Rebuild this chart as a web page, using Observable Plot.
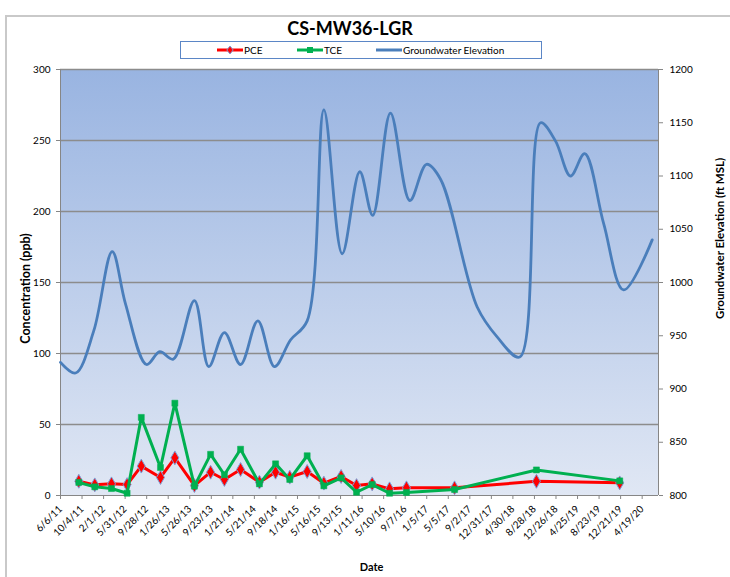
<!DOCTYPE html>
<html>
<head>
<meta charset="utf-8">
<script src="https://cdn.jsdelivr.net/npm/d3@7"></script>
<script src="https://cdn.jsdelivr.net/npm/@observablehq/plot@0.6"></script>
<style>
  html, body { margin: 0; padding: 0; background: #fff; }
  body { width: 730px; height: 577px; position: relative; overflow: hidden; font-family: Lato, "Liberation Sans", sans-serif; }
  #border { position: absolute; left: 5px; top: 15px; width: 800px; height: 700px; border-left: 2px solid #C9C9C9; border-top: 2px solid #C9C9C9; }
  #chart { position: absolute; left: 0; top: 0; }
  #title { position: absolute; left: 250px; width: 200px; top: 17px; text-align: center; font-weight: bold; font-size: 18px; color: #000; }
  #legend { position: absolute; left: 180px; top: 41px; width: 360px; height: 16px; border: 1px solid #5B86C6; background: #fff; }
  #legend svg { position: absolute; left: 0; top: 0; }
</style>
</head>
<body>
<div id="border"></div>
<div id="chart"></div>
<div id="title">CS-MW36-LGR</div>
<div id="legend"></div>
<script>
// ---------- data ----------
const sampleDates = ["2011-09-16","2011-12-14","2012-03-16","2012-06-11","2012-08-29","2012-12-14","2013-03-04","2013-06-21","2013-09-19","2013-12-05","2014-03-05","2014-06-18","2014-09-16","2014-12-04","2015-03-11","2015-06-12","2015-09-16","2015-12-11","2016-03-07","2016-06-12","2016-09-14","2017-06-09","2018-09-08","2019-12-16"];
const pceValues = [10, 7.5, 8.2, 7.7, 20.7, 12.7, 26.5, 7, 16.4, 11.3, 18.3, 9.4, 16.4, 12.9, 16.9, 8.7, 13.4, 7, 8.2, 4.7, 5.4, 5.4, 10, 8.9];
const tceValues = [9.2, 6.1, 4.9, 1.6, 55, 19.7, 65, 6.6, 29, 14.6, 32.6, 8.2, 22.3, 11.3, 28, 6.8, 12.4, 2.3, 7.7, 1.6, 2.1, 4.2, 18, 10.3];

const gwDates = ["2011-06-06","2011-08-29","2011-12-09","2012-03-20","2012-06-02","2012-09-27","2012-12-10","2013-02-23","2013-06-21","2013-09-09","2013-12-05","2014-03-05","2014-06-09","2014-09-10","2014-12-08","2015-03-11","2015-06-12","2015-09-22","2015-12-29","2016-03-10","2016-06-17","2016-10-03","2017-01-04","2017-03-23","2017-10-13","2018-02-01","2018-06-07","2018-10-01","2018-12-23","2019-03-17","2019-06-04","2019-09-18","2020-01-07","2020-06-14"];
const gwValues = [925, 915, 955, 1029, 980, 923, 935, 928, 983, 921, 953, 923, 964, 921, 946, 964, 1162, 1027, 1104, 1063, 1159, 1077, 1111, 1097, 977, 949, 930, 1150, 1133, 1100, 1121, 1055, 993, 1040];

const xTickLabels = ["6/6/11","10/4/11","2/1/12","5/31/12","9/28/12","1/26/13","5/26/13","9/23/13","1/21/14","5/21/14","9/18/14","1/16/15","5/16/15","9/13/15","1/11/16","5/10/16","9/7/16","1/5/17","5/5/17","9/2/17","12/31/17","4/30/18","8/28/18","12/26/18","4/25/19","8/23/19","12/21/19","4/19/20"];
const leftTicks = [0, 50, 100, 150, 200, 250, 300];
const rightTicks = [800, 850, 900, 950, 1000, 1050, 1100, 1150, 1200];
const xDomain = ["2011-06-06", "2020-07-19"];

// ---------- tables ----------
const parseTick = d3.utcParse("%m/%d/%y");
const tickDates = xTickLabels.map(parseTick);
const conc = sampleDates.map((d, i) => ({date: new Date(d), pce: pceValues[i], tce: tceValues[i]}));
const gw = gwDates.map((d, i) => ({date: new Date(d), elev: gwValues[i]}));
const toLeft = v => (v - 800) * 300 / 400;   // secondary axis 800..1200 onto 0..300
const fmt = d3.utcFormat("%-m/%-d/%y");

const axisColor = "#868686";
const pceColor = "#FF0000", tceColor = "#00B050", gwColor = "#4A7EBB";

const chart = Plot.plot({
  width: 730,
  height: 577,
  marginLeft: 60,
  marginRight: 72,
  marginTop: 69,
  marginBottom: 82,
  style: {fontFamily: "Lato, 'Liberation Sans', sans-serif", fontSize: "10px", color: "#000", background: "transparent"},
  x: {type: "utc", domain: xDomain.map(d => new Date(d))},
  y: {domain: [0, 300]},
  marks: [
    Plot.frame({fill: "url(#bgGrad)", stroke: "none"}),
    Plot.ruleY(leftTicks.filter(d => d > 0), {stroke: "#8C8C8C", strokeWidth: 1.3}),
    Plot.ruleX([new Date(xDomain[0]), new Date(xDomain[1])], {stroke: axisColor, strokeWidth: 1}),
    Plot.ruleY([0], {stroke: axisColor, strokeWidth: 1}),
    Plot.axisY(leftTicks, {anchor: "left", label: null, tickSize: 4, tickPadding: 6, stroke: axisColor, fontSize: 10}),
    Plot.axisY(rightTicks.map(toLeft), {anchor: "right", label: null, tickSize: 4, tickPadding: 7, stroke: axisColor, fontSize: 10, tickFormat: d => String(Math.round(d * 400 / 300 + 800))}),
    Plot.axisX(tickDates, {anchor: "bottom", label: null, tickSize: 4, tickPadding: 8, tickRotate: -45, stroke: axisColor, fontSize: 10, tickFormat: fmt}),
    Plot.line(gw, {x: "date", y: d => toLeft(d.elev), stroke: gwColor, strokeWidth: 2.8, curve: "catmull-rom"}),
    Plot.line(conc, {x: "date", y: "pce", stroke: pceColor, strokeWidth: 3}),
    Plot.dot(conc, {x: "date", y: "pce", symbol: "diamond", r: 4.2, fill: pceColor, stroke: "#7B9FD8", strokeWidth: 1}),
    Plot.line(conc, {x: "date", y: "tce", stroke: tceColor, strokeWidth: 3}),
    Plot.dot(conc, {x: "date", y: "tce", symbol: "square", r: 3.4, fill: tceColor, stroke: tceColor, strokeWidth: 0.5}),
    Plot.text(["Concentration (ppb)"], {frameAnchor: "left", dx: -35, dy: 6, rotate: -90, textAnchor: "middle", text: d => d, fontWeight: "bold", fontSize: 12.5}),
    Plot.text(["Groundwater Elevation (ft MSL)"], {frameAnchor: "right", dx: 62, dy: -44, rotate: -90, textAnchor: "middle", text: d => d, fontWeight: "bold", fontSize: 11.5}),
    Plot.text(["Date"], {frameAnchor: "bottom", dx: 12, dy: 75, text: d => d, fontWeight: "bold", fontSize: 11})
  ]
});

// gradient definition for the plot area
const defs = d3.select(chart).insert("defs", ":first-child");
const grad = defs.append("linearGradient").attr("id", "bgGrad").attr("x1", 0).attr("y1", 0).attr("x2", 0).attr("y2", 1);
grad.append("stop").attr("offset", "0%").attr("stop-color", "#99B4E1");
grad.append("stop").attr("offset", "100%").attr("stop-color", "#E0E7F4");
document.getElementById("chart").appendChild(chart);

// ---------- legend ----------
const legendItems = [
  {label: "PCE", color: pceColor, symbol: "diamond", x0: 36},
  {label: "TCE", color: tceColor, symbol: "square", x0: 116},
  {label: "Groundwater Elevation", color: gwColor, symbol: null, x0: 195}
];
const lg = d3.select("#legend").append("svg").attr("width", 360).attr("height", 16);
legendItems.forEach(it => {
  lg.append("line").attr("x1", it.x0).attr("x2", it.x0 + 26).attr("y1", 8).attr("y2", 8)
    .attr("stroke", it.color).attr("stroke-width", 3);
  const cx = it.x0 + 13;
  if (it.symbol === "diamond") {
    lg.append("path").attr("d", `M${cx},${8-4}L${cx+3.2},8L${cx},${8+4}L${cx-3.2},8Z`)
      .attr("fill", it.color).attr("stroke", "#7B9FD8").attr("stroke-width", 1);
  } else if (it.symbol === "square") {
    lg.append("rect").attr("x", cx - 3).attr("y", 5).attr("width", 6).attr("height", 6).attr("fill", it.color);
  }
  lg.append("text").attr("x", it.x0 + 27).attr("y", 11.5).attr("font-size", 10)
    .attr("font-family", "Lato, 'Liberation Sans', sans-serif").attr("fill", "#000").text(it.label);
});
</script>
</body>
</html>
